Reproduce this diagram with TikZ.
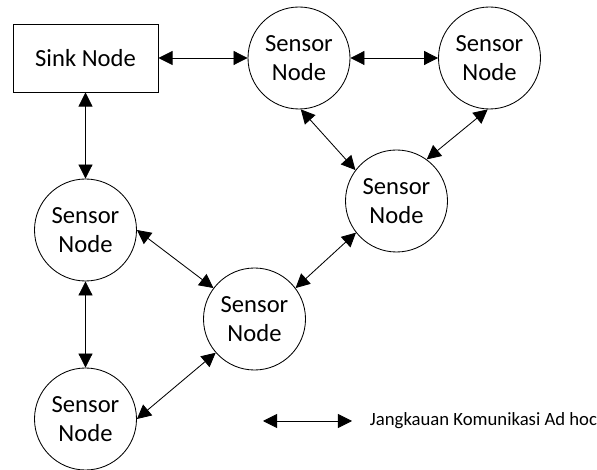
\documentclass[tikz,border=0pt]{standalone}
\usepackage{fontspec}
\setmainfont{Carlito}
\usetikzlibrary{arrows.meta}
\begin{document}
\begin{tikzpicture}[
    sensor/.style={circle,draw,line width=0.6pt,minimum size=2.55cm,inner sep=0pt,align=center,
      font=\fontsize{17.5}{21}\selectfont},
    sink/.style={rectangle,draw,line width=0.7pt,minimum width=3.625cm,minimum height=1.7cm,
      font=\fontsize{17.5}{21}\selectfont},
    >={Triangle[length=10pt,width=10pt]}]
  \useasboundingbox (0,0) rectangle (14.925,11.75);
      \draw
        (2.1375,10.3) node[sink] (sink){Sink Node}
        (7.475,10.3) node[sensor] (s1){Sensor\\Node}
        (12.2375,10.3) node[sensor] (s2){Sensor\\Node}
        (9.9125,6.725) node[sensor] (s3){Sensor\\Node}
        (2.1375,6.0) node[sensor] (s4){Sensor\\Node}
        (6.3625,3.775) node[sensor] (s5){Sensor\\Node}
        (2.1375,1.275) node[sensor] (s6){Sensor\\Node};
      \coordinate (la) at (6.575,1.225);
      \coordinate (lb) at (8.8,1.225);
      \node[anchor=west,font=\fontsize{13.3}{16}\selectfont] (legend) at (9.125,1.225) {Jangkauan Komunikasi Ad hoc};
      \begin{scope}[<->,line width=0.6pt]
        \draw (sink) to (s1);
        \draw (sink) to (s4);
        \draw (s1) to (s2);
        \draw (s1.-88) to (s3.143);
        \draw (s2.-92) to (s3.54);
        \draw (s3.-142) to (s5.37);
        \draw (s4.0) to (s5.143);
        \draw (s4) to (s6);
        \draw (s6.0) to (s5.-139);
        \draw (la) to (lb);
      \end{scope}
    \end{tikzpicture}
\end{document}
